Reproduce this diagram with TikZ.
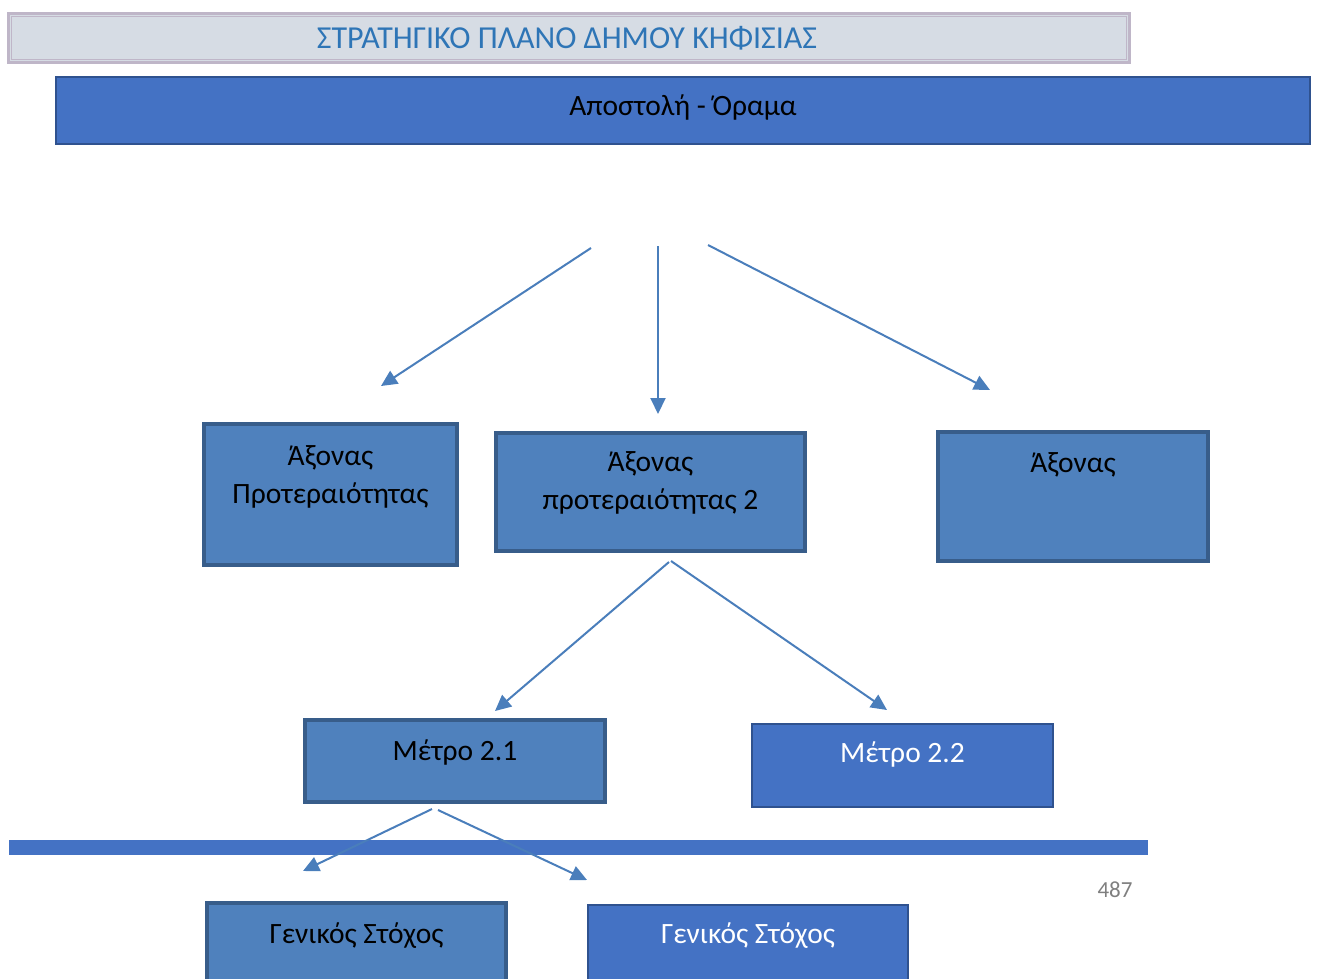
\documentclass[tikz,border=0pt]{standalone}
\usepackage{fontspec}
\setmainfont{Carlito}
\usepackage{tikz}
\usetikzlibrary{calc}
\usetikzlibrary{arrows.meta}

\definecolor{titlefill}{HTML}{D6DCE4}
\definecolor{titleline}{HTML}{BFB6C8}
\definecolor{titletext}{HTML}{2E75B6}
\definecolor{darkfill}{HTML}{4472C4}
\definecolor{darkline}{HTML}{2F528F}
\definecolor{midfill}{HTML}{4F81BD}
\definecolor{midline}{HTML}{385D8A}
\definecolor{arrowblue}{HTML}{4A7EBB}
\definecolor{pagegray}{HTML}{7F7F7F}

\begin{document}
\begin{tikzpicture}[x=1pt,y=-1pt]
            \tikzstyle{axisbox} = [draw=midline, fill=midfill, line width=4pt, inner sep=0pt]
            \tikzstyle{plainbox} = [draw=darkline, fill=darkfill, line width=2pt, inner sep=0pt]
            \tikzstyle{txt} = [inner sep=0pt, anchor=base, align=center, font=\fontsize{29.5}{38}\selectfont]
            \tikzstyle{link} = [draw=arrowblue, line width=2pt, -{Triangle[length=16pt,width=15pt]}]
            \clip (0,0) rectangle (1319,978);

            % header
            \node (title) [draw=titleline, fill=titlefill, line width=3pt, minimum width=1121pt, minimum height=49pt] at (568.5,37.5) {};
            \draw [titleline, line width=1pt] (11,16) rectangle (1126,59);
            \node [txt, text=titletext, font=\fontsize{32}{38}\selectfont] at (567,48) {ΣΤΡΑΤΗΓΙΚΟ ΠΛΑΝΟ ΔΗΜΟΥ ΚΗΦΙΣΙΑΣ};
            \node (vision) [plainbox, minimum width=1254pt, minimum height=67pt] at (683,110.5) {};
            \node [txt] at (683,115) {Αποστολή - Όραμα};

            % axes (base of a two-line text is its last line)
            \node (a1) [axisbox, minimum width=253pt, minimum height=141pt] at (330.5,494.5) {};
            \node [txt] at (330.5,503) {Άξονας\\Προτεραιότητας};
            \node (a2) [axisbox, minimum width=309pt, minimum height=118pt] at (650.5,492) {};
            \node [txt] at (650.5,509) {Άξονας\\προτεραιότητας 2};
            \node (a3) [axisbox, minimum width=270pt, minimum height=129pt] at (1073,496.5) {};
            \node [txt] at (1073,472) {Άξονας};

            % measures
            \node (m1) [axisbox, minimum width=300pt, minimum height=82pt] at (455,761) {};
            \node [txt] at (455,760) {Μέτρο 2.1};
            \node (m2) [plainbox, minimum width=301pt, minimum height=83pt] at (902.5,765.5) {};
            \node [txt, text=white] at (902.5,762) {Μέτρο 2.2};

            % page break
            \fill [darkfill] (9,840) rectangle (1148,855);
            \node [txt, text=pagegray, font=\fontsize{23}{26}\selectfont] at (1115,897) {487};

            % goals
            \node (g1) [axisbox, minimum width=299pt, minimum height=150pt] at (356.5,978) {};
            \node [txt] at (356.5,943) {Γενικός Στόχος};
            \node (g2) [plainbox, minimum width=320pt, minimum height=150pt] at (748,980) {};
            \node [txt, text=white] at (748,943) {Γενικός Στόχος};

            % arrows
            \coordinate (v1) at (591,248);
            \coordinate (v2) at (658,246);
            \coordinate (v3) at (708,245);
            \coordinate (t1) at (381,386);
            \coordinate (t2) at (658,414);
            \coordinate (t3) at (990,390);
            \draw (v1) edge[link] (t1);
            \draw (v2) edge[link] (t2);
            \draw (v3) edge[link] (t3);

            \coordinate (s1) at (669,562);
            \coordinate (s2) at (671,561);
            \coordinate (u1) at (495,711);
            \coordinate (u2) at (887,710);
            \draw (s1) edge[link] (u1);
            \draw (s2) edge[link] (u2);

            \coordinate (r1) at (432,809);
            \coordinate (r2) at (438,810);
            \coordinate (w1) at (303,871);
            \coordinate (w2) at (587,880);
            \draw (r1) edge[link] (w1);
            \draw (r2) edge[link] (w2);
        \end{tikzpicture}
\end{document}
